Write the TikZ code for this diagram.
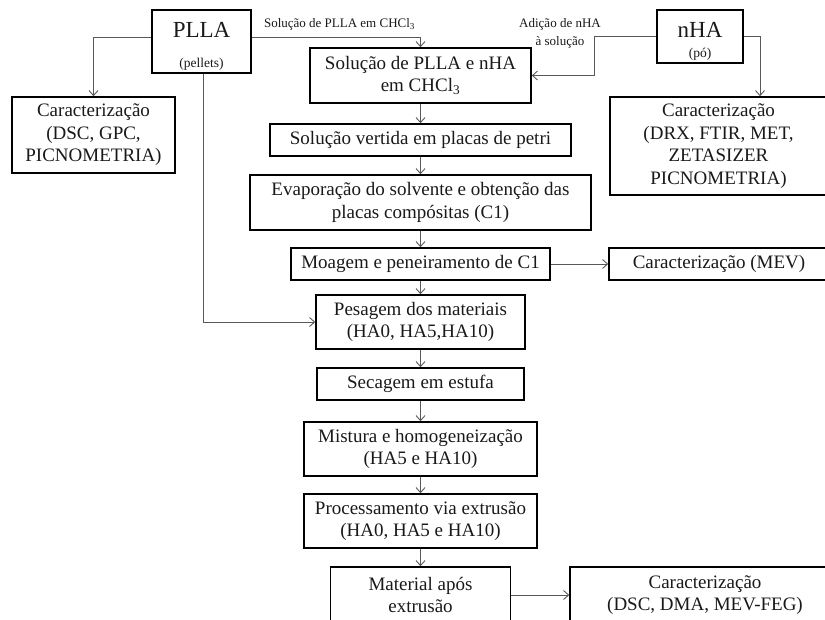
\documentclass[tikz,border=0pt]{standalone}
\usepackage{fontspec}
\setmainfont{Liberation Serif}
\usetikzlibrary{arrows.meta}

\begin{document}
\begin{tikzpicture}[x=1pt,y=-1pt,
        caixa/.style={draw=black,line width=1.6pt,inner sep=0pt,align=center,text=black!90,
                      font=\fontsize{19}{22.5}\selectfont},
        liga/.style={draw=black!65,line width=0.9pt,-{Straight Barb[length=5pt,width=9pt]}},
        rotulo/.style={inner sep=0pt,align=center,text=black!90,font=\fontsize{13}{18}\selectfont}]
    \useasboundingbox (0,0) rectangle (825,619);
    \clip (0,0) rectangle (825,619); % the page cuts the right and bottom boxes

    % materials
    \node[caixa,minimum width=99pt,minimum height=63pt] (plla) at (201.5,41.5)
        {\rule{0pt}{25pt}{\fontsize{23}{26}\selectfont PLLA}\\[7pt]{\fontsize{13.5}{15}\selectfont (pellets)}};
    \node[caixa,minimum width=86pt,minimum height=53pt] (nha) at (700,36.5)
        {\rule{0pt}{25pt}{\fontsize{23}{26}\selectfont nHA}\\[-2pt]{\fontsize{13.5}{15}\selectfont (pó)}};

    % side boxes
    \node[caixa,minimum width=163pt,minimum height=76pt] (carL) at (93.5,135)
        {Caracterização\\(DSC, GPC,\\PICNOMETRIA)};
    \node[caixa,minimum width=217pt,minimum height=98pt] (carR) at (718.5,146)
        {Caracterização\\(DRX, FTIR, MET,\\ZETASIZER\\PICNOMETRIA)};
    \node[caixa,minimum width=220pt,minimum height=32pt] (mev) at (719,264) {Caracterização (MEV)};
    \node[caixa,minimum width=270pt,minimum height=56pt] (carF) at (705,595)
        {Caracterização\\(DSC, DMA, MEV-FEG)};

    % main column
    \node[caixa,minimum width=221pt,minimum height=55pt] (solPN) at (420.5,75.5)
        {Solução de PLLA e nHA\\em CHCl\textsubscript{3}};
    \node[caixa,minimum width=301pt,minimum height=32pt] (solV) at (420.5,140)
        {Solução vertida em placas de petri};
    \node[caixa,minimum width=341pt,minimum height=55pt] (evap) at (420.5,202.5)
        {Evaporação do solvente e obtenção das\\placas compósitas (C1)};
    \node[caixa,minimum width=259pt,minimum height=32pt] (moag) at (420.5,264)
        {Moagem e peneiramento de C1};
    \node[caixa,minimum width=209pt,minimum height=54pt] (pes) at (420.5,322)
        {Pesagem dos materiais\\(HA0, HA5,HA10)};
    \node[caixa,minimum width=207pt,minimum height=32pt] (sec) at (420.5,384) {Secagem em estufa};
    \node[caixa,minimum width=233pt,minimum height=54pt] (mist) at (420.5,449)
        {Mistura e homogeneização\\(HA5 e HA10)};
    \node[caixa,minimum width=233pt,minimum height=54pt] (proc) at (420.5,521)
        {Processamento via extrusão\\(HA0, HA5 e HA10)};
    \node[caixa,minimum width=180pt,minimum height=56pt] (mat) at (420.5,595)
        {Material após\\extrusão};

    % labels on the feed lines
    \node[rotulo] (lblPLLA) at (339.5,24) {Solução de PLLA em CHCl\textsubscript{3}};
    \node[rotulo] (lblnHA) at (560,33) {Adição de nHA\\à solução};

    % connectors
    \draw[liga] ([yshift=4.5pt]plla.west) -| (carL.north);
    \draw[liga] ([yshift=4.5pt]plla.east) -| (solPN.north);
    \draw[liga] ([xshift=1.5pt]plla.south) |- (pes.west);
    \draw[liga] (nha.west) -- ++(-62,0) |- (solPN.east);
    \draw[liga] (nha.east) -| ([xshift=41.5pt]carR.north);
    \draw[liga] (solPN.south) -- (solV.north);
    \draw[liga] (solV.south) -- (evap.north);
    \draw[liga] (evap.south) -- (moag.north);
    \draw[liga] (moag.south) -- (pes.north);
    \draw[liga] (pes.south) -- (sec.north);
    \draw[liga] (sec.south) -- (mist.north);
    \draw[liga] (mist.south) -- (proc.north);
    \draw[liga] (proc.south) -- (mat.north);
    \draw[liga] (moag.east) -- (mev.west);
    \draw[liga] (mat.east) -- (carF.west);
\end{tikzpicture}
\end{document}
